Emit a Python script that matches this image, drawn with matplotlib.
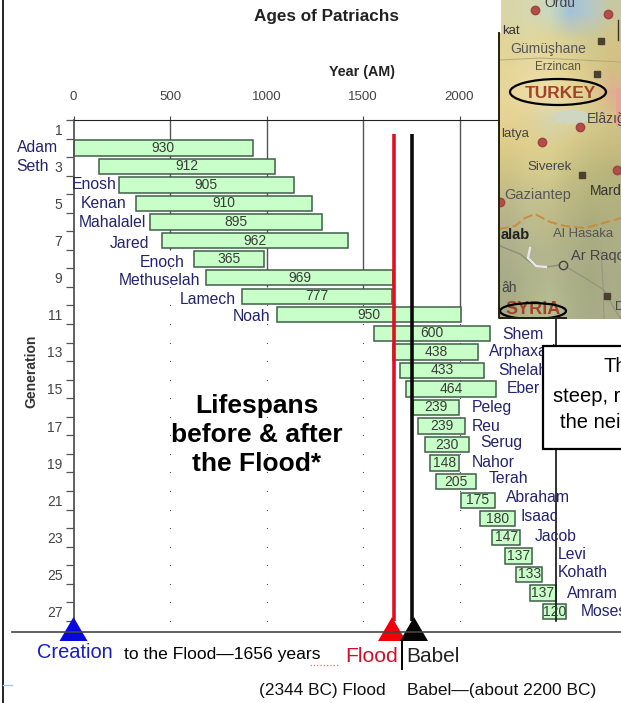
import matplotlib
matplotlib.use("Agg")
import matplotlib.pyplot as plt
import numpy as np
from matplotlib.patches import Polygon, Ellipse, Rectangle

W, H = 621, 703
names = ["Adam","Seth","Enosh","Kenan","Mahalalel","Jared","Enoch","Methuselah","Lamech","Noah",
         "Shem","Arphaxad","Shelah","Eber","Peleg","Reu","Serug","Nahor","Terah",
         "Abraham","Isaac","Jacob","Levi","Kohath","Amram","Moses"]
birth = [0,130,235,325,395,460,622,687,874,1056,1558,1658,1693,1723,1757,1787,1819,1849,1878,
         2008,2108,2168,2238,2295,2364,2433]
age = [930,912,905,910,895,962,365,969,777,950,600,438,433,464,239,239,230,148,205,
       175,180,147,137,133,137,120]
generation = list(range(2, 28))
x_ticks = [0,500,1000,1500,2000]
y_ticks = list(range(1, 28, 2))
flood_year = 1660
babel_year = 1754

SANS = "Liberation Sans"
plt.rcParams["font.family"] = SANS
fig = plt.figure(figsize=(W/100, H/100), dpi=100, facecolor="white")

def axpx(l, t, r, b, **kw):
    return fig.add_axes([l/W, 1-b/H, (r-l)/W, (b-t)/H], **kw)

# main chart
ax = axpx(73.5, 120, 556, 620.8, zorder=1)
ax.set_xlim(0, 2500)
ax.set_ylim(27.5, 0.5)
ax.spines["bottom"].set_visible(False)
ax.spines["left"].set_color("#555555")
ax.spines["left"].set_linewidth(1.3)
ax.spines["top"].set_color("#222222")
ax.spines["right"].set_color("#111111")
ax.spines["right"].set_linewidth(1.2)
ax.xaxis.tick_top()
ax.set_xticks(x_ticks)
ax.set_xticklabels([str(v) for v in x_ticks], fontsize=9.5, color="#444444")
ax.tick_params(axis="x", length=3, pad=9, color="#444444")
ax.set_yticks(y_ticks)
ax.set_yticklabels([str(v) for v in y_ticks], fontsize=10, color="#444444")
ax.tick_params(axis="y", which="major", length=0, pad=8)
ax.set_yticks(np.arange(0.5, 28, 1), minor=True)
ax.tick_params(axis="y", which="minor", length=6, color="#555555", width=0.9)

# grid: solid upper part, dots below
half_rows = np.arange(1.5, 28, 1)
for xv, solid_to in zip(x_ticks[1:], [7.5, 9.5, 10, 11]):
    ax.vlines(xv, 0.5, solid_to, color="#555555", lw=1.0, zorder=1)
    hr = half_rows[half_rows > solid_to]
    ax.plot(np.full(hr.shape, xv), hr, ls="", marker="s", ms=0.8, mew=0, color="#555555", zorder=1, clip_on=False)

# bars
ax.barh(generation, age, left=birth, height=0.83, facecolor="#C8FFC8", edgecolor="#3f5f48",
        linewidth=1.1, zorder=2, clip_on=False)
for g, b, a in zip(generation, birth, age):
    ax.text(b + a/2, g, str(a), ha="center", va="center", fontsize=10, color="#3a3a3a",
            zorder=5, clip_on=False)

# name labels
left_edge = [58,49,117,127,146,149,185,200,236,270]
right_edge = [502,489,498,507,472,472,480,472,489,506,521,535,558,558,567,581]
name_dy = [0,0,0,0,0,3,3,3,3,2,1,0,0,0,0,0,-2,-1,-3,-3,-2,-1,-1,-2,1,0]
name_col = "#23236e"
for i, n in enumerate(names):
    y = generation[i] + name_dy[i]/18.56
    if i < 10:
        xd = (left_edge[i]-73.5)/482.5*2500
        ha = "right"
    else:
        xd = (right_edge[i-10]-73.5)/482.5*2500
        ha = "left"
    ax.text(xd, y, n, ha=ha, va="center", fontsize=11.3, color=name_col, zorder=6, clip_on=False)

# flood and babel lines
ax.vlines(flood_year, 1.25, 27.5, color="#e01020", lw=2.6, zorder=4)
ax.vlines(babel_year, 1.25, 27.5, color="#0a0a0a", lw=2.6, zorder=4)

# overlay in pixel coordinates
ov = fig.add_axes([0, 0, 1, 1], zorder=3, facecolor="none")
ov.set_xlim(0, W); ov.set_ylim(H, 0); ov.axis("off")

ov.plot([3, 3], [0, H], color="#111111", lw=1.3)
ov.plot([12, W], [632, 632], color="#444444", lw=1.2)
ov.plot([402, 402], [641, 669], color="black", lw=1.4)
ov.plot([3, 12], [685, 685], color="#9fc8f0", lw=1)
ov.plot([310, 338], [665, 665], color="#e07070", lw=0.9, ls=":")

def x2px(v):
    return 73.5 + v*482.5/2500
for cx, hw, col in [(x2px(0), 14, "#0808e0"), (392, 14, "#f00008"), (414, 14, "#050505")]:
    ov.add_patch(Polygon([(cx, 617), (cx-hw, 641), (cx+hw, 641)], closed=True, color=col, lw=0))

ov.text(326, 16, "Ages of Patriachs", ha="center", va="center", fontsize=12.3, fontweight="bold", color="#222222")
ov.text(362, 72, "Year (AM)", ha="center", va="center", fontsize=10.3, fontweight="bold", color="#222222")
ov.text(31, 371, "Generation", ha="center", va="center", rotation=90, fontsize=10, fontweight="bold", color="#333333")
for yy, t in [(406, "Lifespans"), (435, "before & after"), (464, "the Flood*")]:
    ov.text(257, yy, t, ha="center", va="center", fontsize=19, fontweight="bold", color="black")

ov.text(37, 653, "Creation", ha="left", va="center", fontsize=14.4, color="#1a1ac8")
ov.text(124, 654, "to the Flood—1656 years", ha="left", va="center", fontsize=12.6, color="black")
ov.text(345, 657, "Flood", ha="left", va="center", fontsize=15.2, color="#d01028")
ov.text(406, 656, "Babel", ha="left", va="center", fontsize=15, color="#222222")
ov.text(259, 691, "(2344 BC) Flood", ha="left", va="center", fontsize=12.4, color="#111111")
ov.text(407, 691, "Babel—(about 2200 BC)", ha="left", va="center", fontsize=12.5, color="#111111")

# callout box
box = Rectangle((543, 346), 90, 103, facecolor="white", edgecolor="black", lw=1.6, zorder=8)
ov.add_patch(box)
for xx, yy, t in [(603, 367, "Th"), (553, 397, "steep, r"), (560, 423, "the neig")]:
    ov.text(xx, yy, t, ha="left", va="center", fontsize=14.5, color="black", zorder=9, clip_on=True)

# map inset
mp = axpx(499, 0, 621, 319, zorder=4)
mp.set_xticks([]); mp.set_yticks([])
for s in mp.spines.values():
    s.set_visible(False)
map_rows = [
 ["#d8d6a8","#d9d8b0","#c8d8c0","#a3c2d8","#b5c8c8","#c8c8a0"],
 ["#e0d49a","#e0d8a0","#e2d496","#d8cf98","#cfc990","#d5c488"],
 ["#e4d698","#e8d8a0","#ead9a0","#e2d292","#d8c98a","#d2c084"],
 ["#e8d69a","#eedca6","#f0e0a8","#e8d89a","#dccd90","#e0b090"],
 ["#e6d294","#e2d296","#d6d4b0","#dcd4a0","#d8cb8c","#d4c488"],
 ["#dccc88","#e0cf8e","#dcd090","#d6c98a","#ccc284","#c8bd80"],
 ["#cdc484","#d6ca8c","#d4cc8e","#c6c084","#bcb87e","#b8b47c"],
 ["#bfb98a","#c4c090","#c4c08c","#bcb882","#b4b27e","#b4b27e"],
 ["#b4b28a","#bcbc90","#bcba88","#b2b284","#aaac7e","#aeae82"],
 ["#aeb08c","#b2b68e","#b4b68c","#aeb088","#a8ac84","#acae88"],
 ["#a8ac88","#b0b48c","#b4b890","#acb088","#a6aa84","#aaac88"],
 ["#a8ac86","#b2b68c","#b8bc92","#aeb28a","#a8ac86","#aaac88"],
]
rgb = np.array([[matplotlib.colors.to_rgb(c) for c in r] for r in map_rows])
mp.imshow(rgb, extent=(499, 621, 319, 0), aspect="auto", interpolation="bilinear", zorder=0)
mp.set_xlim(499, 621); mp.set_ylim(319, 0)
mp.add_patch(Rectangle((499, 0), 2, 33, facecolor="white", edgecolor="none", zorder=1))
mp.add_patch(Rectangle((616, 88), 6, 38, facecolor="#e8a492", edgecolor="none", zorder=1))
mp.add_patch(Ellipse((572, 117), 38, 14, facecolor="#ccd8cc", edgecolor="none", zorder=1, alpha=0.8))
# border and rivers
mp.plot([499, 515, 525, 535, 550, 565, 585, 600, 621], [229, 226, 218, 214, 222, 226, 228, 224, 218],
        color="#c98c3c", lw=1.4, ls=(0, (5, 2)), zorder=2)
mp.plot([500, 520, 530, 536, 546, 560], [246, 254, 262, 266, 267, 265], color="#8a8f78", lw=1, zorder=2)
mp.plot([530, 528, 536, 546], [248, 258, 266, 267], color="#e8e8ee", lw=1.6, zorder=2)
mp.plot([565, 585, 604, 615, 621], [266, 278, 290, 310, 319], color="#8f9478", lw=0.8, zorder=2)
mp.plot([500, 540, 621], [60, 58, 62], color="#b5a878", lw=0.7, zorder=2)
mp.plot([601, 603, 604], [250, 285, 319], color="#8f9478", lw=0.6, zorder=2)
mp.plot([618, 618], [20, 40], color="#333322", lw=1, zorder=2)

map_labels = [
 (544, 3, "Ordu", 10, "#444444", "normal"),
 (502, 31, "kat", 9.5, "#333333", "normal"),
 (510, 49, "Gümüşhane", 10, "#555555", "normal"),
 (535, 67, "Erzincan", 8.5, "#555544", "normal"),
 (525, 93, "TURKEY", 12.5, "#a04428", "bold"),
 (587, 119, "Elâzığ", 10, "#444444", "normal"),
 (501, 134, "latya", 9.5, "#444444", "normal"),
 (527, 167, "Siverek", 9.5, "#444444", "normal"),
 (504, 195, "Gaziantep", 10.5, "#555555", "normal"),
 (590, 191, "Mardin", 10, "#333333", "normal"),
 (501, 235, "alab", 10.5, "#222222", "bold"),
 (553, 234, "Al Hasaka", 9.5, "#555555", "normal"),
 (571, 256, "Ar Raqqa", 10.5, "#444444", "normal"),
 (501, 288, "âh", 10, "#444444", "normal"),
 (505, 310, "SYRIA", 13, "#a04428", "bold"),
 (615, 307, "D", 9, "#444444", "normal"),
]
for xx, yy, t, fs, c, w in map_labels:
    mp.text(xx, yy, t, fontsize=fs, color=c, fontweight=w, ha="left", va="center", clip_on=True, zorder=3)
cities = [(535, 10), (608, 14), (580, 127), (542, 142), (617, 170), (500, 202)]
squares = [(601, 41), (597, 74), (582, 175), (607, 296)]
mp.plot(*zip(*cities), ls="", marker="o", ms=6, mfc="#b05048", mec="#a04040", zorder=3)
mp.plot(*zip(*squares), ls="", marker="s", ms=4, mfc="#4a4030", mec="#4a4030", zorder=3)
mp.plot([563], [265], marker="o", ms=6, mfc="none", mec="#444444", zorder=3)
mp.add_patch(Ellipse((558, 92), 96, 26, fill=False, edgecolor="black", lw=1.6, zorder=4))
mp.add_patch(Ellipse((533, 311), 66, 16, fill=False, edgecolor="black", lw=1.6, zorder=4))
mp.plot([499.5, 499.5, 566], [33, 318, 318], color="#222211", lw=1.4, zorder=5, clip_on=False)
mp.set_xlim(499, 621); mp.set_ylim(319, 0)

fig.savefig("out.png", dpi=100)
